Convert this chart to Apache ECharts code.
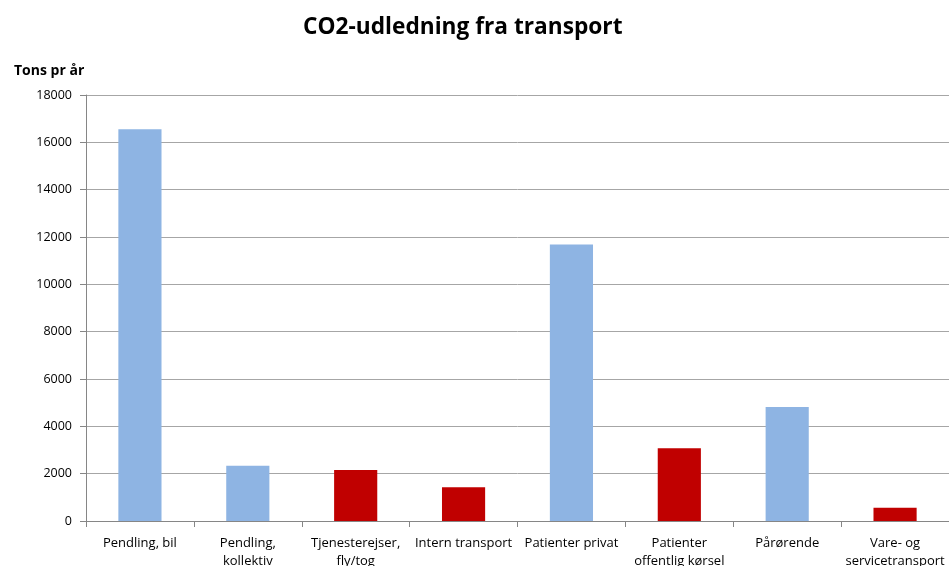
<!DOCTYPE html>
<html>
<head>
<meta charset="utf-8">
<script src="https://cdn.jsdelivr.net/npm/echarts@6/dist/echarts.min.js"></script>
<style>
  html, body { margin: 0; padding: 0; background: #fff; }
  #chart { width: 949px; height: 566px; }
</style>
</head>
<body>
<div id="chart"></div>
<script>
const categories = [
  'Pendling, bil',
  'Pendling,\nkollektiv',
  'Tjenesterejser,\nfly/tog',
  'Intern transport',
  'Patienter privat',
  'Patienter\noffentlig kørsel',
  'Pårørende',
  'Vare- og\nservicetransport'
];
const tons = [16550, 2330, 2150, 1430, 11680, 3070, 4820, 560];
const yTicks = [0, 2000, 4000, 6000, 8000, 10000, 12000, 14000, 16000, 18000];

// blue / red per bar
const barColors = ['#8EB4E3', '#8EB4E3', '#C00000', '#C00000', '#8EB4E3', '#C00000', '#8EB4E3', '#C00000'];

const font = 'Open Sans, sans-serif';
const chart = echarts.init(document.getElementById('chart'));

chart.setOption({
  animation: false,
  title: [
    {
      text: 'CO2-udledning fra transport',
      left: 298,
      top: 11,
      textStyle: { fontFamily: font, fontSize: 22.7, fontWeight: 'bold', color: '#000' }
    },
    {
      text: 'Tons pr år',
      left: 9,
      top: 59,
      textStyle: { fontFamily: font, fontSize: 14, fontWeight: 'bold', color: '#000' }
    }
  ],
  grid: { left: 86, right: 0, top: 95, bottom: 45, outerBoundsMode: 'none' },
  xAxis: {
    type: 'category',
    data: categories,
    axisLine: { lineStyle: { color: '#868686' } },
    axisTick: { show: true, length: 6, lineStyle: { color: '#868686' } },
    axisLabel: {
      interval: 0,
      margin: 13,
      fontFamily: font,
      fontSize: 13,
      lineHeight: 18,
      color: '#000'
    }
  },
  yAxis: {
    type: 'value',
    min: yTicks[0],
    max: yTicks[yTicks.length - 1],
    interval: 2000,
    axisLine: { show: true, lineStyle: { color: '#868686' } },
    axisTick: { show: true, length: 6, lineStyle: { color: '#868686' } },
    splitLine: { lineStyle: { color: '#A6A6A6' } },
    axisLabel: {
      fontFamily: font,
      fontSize: 12.5,
      color: '#000',
      margin: 14,
      formatter: v => String(v)
    }
  },
  series: [
    {
      type: 'bar',
      barWidth: '40%',
      data: tons.map((v, i) => ({ value: v, itemStyle: { color: barColors[i] } }))
    }
  ]
});
</script>
</body>
</html>
